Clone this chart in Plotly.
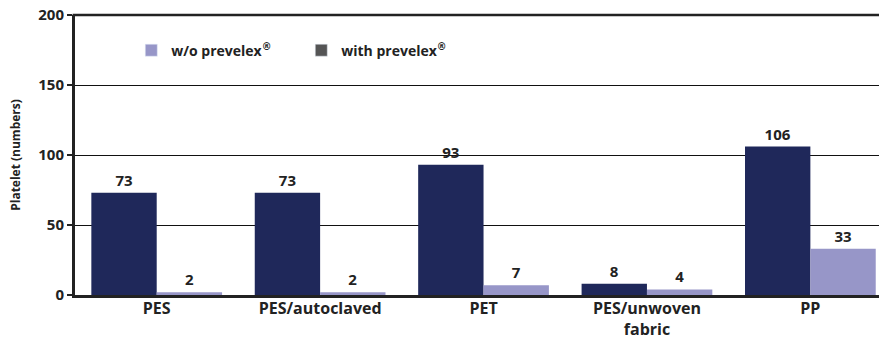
import plotly.graph_objects as go

categories = ["PES", "PES/autoclaved", "PET", "PES/unwoven<br>fabric", "PP"]
with_values = [73, 73, 93, 8, 106]
without_values = [2, 2, 7, 4, 33]
y_ticks = [0, 50, 100, 150, 200]

navy = "#1F285A"
lav = "#9796C8"
gray = "#555555"
font_fam = "Open Sans"
reg = "<sup><span style='font-family:DejaVu Sans'>®</span></sup>"

fig = go.Figure()
fig.add_trace(go.Bar(
    x=categories, y=with_values, marker=dict(color=navy, line=dict(width=0)),
    text=with_values, textposition="outside", cliponaxis=False,
    textfont=dict(size=15, color="#222", family=font_fam, weight="bold"),
    showlegend=False, name="with prevelex®"))
fig.add_trace(go.Bar(
    x=categories, y=without_values, marker=dict(color=lav, line=dict(width=0)),
    text=without_values, textposition="outside", cliponaxis=False,
    textfont=dict(size=15, color="#222", family=font_fam, weight="bold"),
    showlegend=False, name="w/o prevelex®"))
# legend-only entries (drawn on a hidden axis pair)
fig.add_trace(go.Bar(x=[None], y=[None], marker_color=lav, name="w/o prevelex" + reg,
                     xaxis="x2", yaxis="y2", showlegend=True))
fig.add_trace(go.Bar(x=[None], y=[None], marker_color=gray, name="with prevelex" + reg,
                     xaxis="x2", yaxis="y2", showlegend=True))

fig.update_layout(
    width=879, height=341,
    margin=dict(l=75, r=0, t=15, b=46),
    paper_bgcolor="white", plot_bgcolor="white",
    barmode="group", bargap=0.2, bargroupgap=0,
    font=dict(family=font_fam, color="#222"),
    xaxis=dict(range=[-0.5, 4.42], showline=True, linecolor="#222", linewidth=3,
               showgrid=False, ticks="", automargin=False, ticklabelstandoff=-3,
               tickfont=dict(size=16, family=font_fam, weight="bold", color="#222")),
    yaxis=dict(range=[0, 200], tickvals=y_ticks, showgrid=True, gridcolor="#111",
               gridwidth=1, showline=True, linecolor="#222", linewidth=3,
               ticks="outside", ticklen=5, tickcolor="#222", tickwidth=1.5,
               zeroline=False, automargin=False,
               tickfont=dict(size=15, family=font_fam, weight="bold", color="#222"),
               title=dict(text="Platelet (numbers)", standoff=16,
                          font=dict(size=12, family=font_fam, weight="bold", color="#222"))),
    xaxis2=dict(overlaying="x", visible=False, range=[0, 1]),
    yaxis2=dict(overlaying="y", visible=False, range=[0, 1]),
    legend=dict(orientation="h", x=0.07, y=0.93, xanchor="left", yanchor="top",
                bgcolor="rgba(0,0,0,0)", entrywidth=125, entrywidthmode="pixels",
                font=dict(size=14, family=font_fam, weight="bold", color="#222")),
    shapes=[dict(type="line", xref="paper", yref="paper", x0=-0.003, x1=1, y0=1, y1=1,
                 line=dict(color="#222", width=2.5), layer="above")],
)

fig.write_html("out.html")
